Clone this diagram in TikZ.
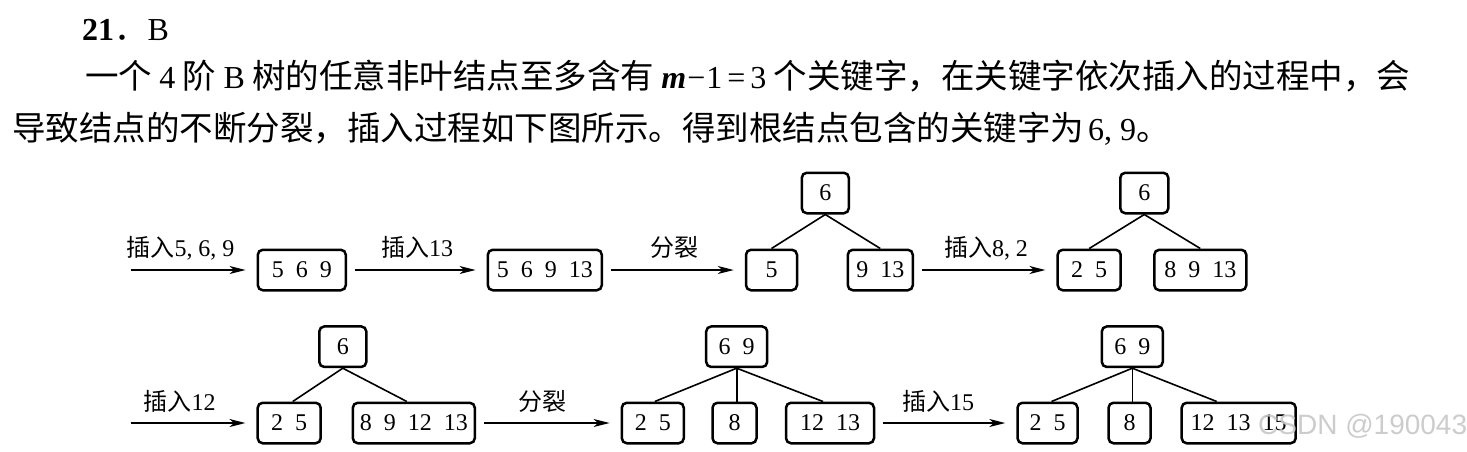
\documentclass[tikz,border=0pt]{standalone}
\usepackage{fontspec}
\setmainfont{Liberation Serif}
\newfontfamily\cjk{Noto Sans CJK SC}
\newfontfamily\wmfont{Liberation Sans}
\usetikzlibrary{arrows.meta}
\newcommand\Cj[1]{{\cjk #1}}
\newcommand\Cb[1]{{\cjk\fontsize{33.5}{38}\selectfont #1}}
\begin{document}
\begin{tikzpicture}[x=1pt,y=-1pt,
  kbox/.style={draw, line width=2.5pt, rounded corners=5pt, minimum height=40.5pt,
    inner sep=0pt, font=\fontsize{24}{28}\selectfont},
  tedge/.style={line width=1.6pt},
  arr/.style={line width=1.5pt, -{Stealth[length=16pt,width=8pt,inset=4.5pt]},
    shorten <=8pt, shorten >=11pt},
  lbl/.style={anchor=base, inner sep=0pt, font=\fontsize{24}{28}\selectfont},
  body/.style={anchor=base west, inner sep=0pt, font=\fontsize{32}{38}\selectfont}]
\useasboundingbox (0,0) rectangle (1467,451);

% heading text
\node[body] (t0) at (82,40) {\textbf{21}\Cb{．}B};
\node[body] (t1) at (85,88) {\makebox[1325pt][s]{\Cb{一个} 4 \Cb{阶} B \Cb{树的任意非叶结点至多含有} {\bfseries\itshape m}\kern1pt−\kern1pt1\kern5pt=\kern5pt3 \Cb{个关键字，在关键字依次插入的过程中，会}}};
\node[body] (t2) at (12,140) {\Cb{导致结点的不断分裂，插入过程如下图所示。得到根结点包含的关键字为}\kern4pt 6, 9\Cb{。}};

% row 1
\coordinate (s1) at (122.7,270);
\node[kbox, minimum width=88pt] (A) at (301.8,270) {5\enspace 6\enspace 9};
\node[kbox, minimum width=114pt] (B) at (544.8,270) {5\enspace 6\enspace 9\enspace 13};
\node[kbox, minimum width=47pt] (C) at (825.3,193) {6};
\node[kbox, minimum width=51pt] (C1) at (771.5,270) {5};
\node[kbox, minimum width=65pt] (C2) at (880.3,270) {9\enspace 13};
\node[kbox, minimum width=48pt] (D) at (1144.3,193) {6};
\node[kbox, minimum width=63pt] (D1) at (1089.2,270) {2\enspace 5};
\node[kbox, minimum width=92pt] (D2) at (1200.3,270) {8\enspace 9\enspace 13};

\draw[arr] (s1) -- (A.west);
\draw[arr] (A.east) -- (B.west);
\draw[arr] (B.east) -- (C1.west);
\draw[arr] (C2.east) -- (D1.west);
\node[lbl] (l1) at (180.5,256.5) {\Cj{插入}5, 6, 9};
\node[lbl] (l2) at (417,256.5) {\Cj{插入}13};
\node[lbl] (l3) at (674,256.5) {\Cj{分裂}};
\node[lbl] (l4) at (986,256.5) {\Cj{插入}8, 2};

\draw[tedge] (C.south) -- (C1.north);
\draw[tedge] (C.south) -- (C2.north);
\draw[tedge] (D.south) -- (D1.north);
\draw[tedge] (D.south) -- (D2.north);

% row 2
\coordinate (s2) at (122.7,423);
\node[kbox, minimum width=47pt] (E) at (342.8,346.7) {6};
\node[kbox, minimum width=63pt] (E1) at (289.2,423) {2\enspace 5};
\node[kbox, minimum width=122pt] (E2) at (413.8,423) {8\enspace 9\enspace 12\enspace 13};
\node[kbox, minimum width=61pt] (F) at (736.7,346.7) {6\enspace 9};
\node[kbox, minimum width=62pt] (F1) at (652.8,423) {2\enspace 5};
\node[kbox, minimum width=44pt] (F2) at (734.5,423) {8};
\node[kbox, minimum width=88pt] (F3) at (830,423) {12\enspace 13};
\node[kbox, minimum width=61pt] (G) at (1132.3,346.7) {6\enspace 9};
\node[kbox, minimum width=60pt] (G1) at (1047.5,423) {2\enspace 5};
\node[kbox, minimum width=42pt] (G2) at (1129.5,423) {8};
\node[kbox, minimum width=114pt] (G3) at (1238.7,423) {12\enspace 13\enspace 15};

\draw[arr] (s2) -- (E1.west);
\draw[arr] (E2.east) -- (F1.west);
\draw[arr] (F3.east) -- (G1.west);
\node[lbl] (l5) at (179.5,410) {\Cj{插入}12};
\node[lbl] (l6) at (542,410) {\Cj{分裂}};
\node[lbl] (l7) at (938,410) {\Cj{插入}15};

\draw[tedge] (E.south) -- ([xshift=3.5pt]E1.north);
\draw[tedge] (E.south) -- ([xshift=-7pt]E2.north);
\draw[tedge] (F.south) -- ([xshift=2pt]F1.north);
\draw[tedge] (F.south) -- (F2.north -| F.south);
\draw[tedge] (F.south) -- ([xshift=-7pt]F3.north);
\draw[tedge] (G.south) -- ([xshift=4pt]G1.north);
\draw[tedge] (G.south) -- (G2.north -| G.south);
\draw[tedge] (G.south) -- ([xshift=-22pt]G3.north);

% watermark
\node[anchor=west, inner sep=0pt, text=black!22, opacity=0.9,
  font=\wmfont\fontsize{28}{32}\selectfont] (wm) at (1258,426) {CSDN @190043};
\end{tikzpicture}
\end{document}
